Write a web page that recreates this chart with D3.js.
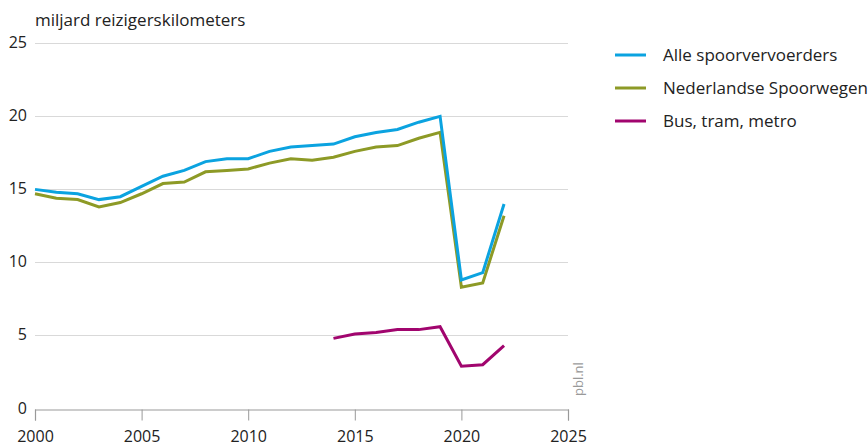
<!DOCTYPE html>
<html>
<head>
<meta charset="utf-8">
<script src="https://cdn.jsdelivr.net/npm/d3@7"></script>
<style>
  body { margin: 0; background: #fff; }
  svg { display: block; font-family: "Open Sans", sans-serif; }
</style>
</head>
<body>
<svg id="chart" width="868" height="448"></svg>
<script>
// Reizigerskilometers per vervoerswijze (miljard)
const years = d3.range(2000, 2023);
const alleSpoor = [15.0, 14.8, 14.7, 14.3, 14.5, 15.2, 15.9, 16.3, 16.9, 17.1, 17.1, 17.6, 17.9, 18.0, 18.1, 18.6, 18.9, 19.1, 19.6, 20.0, 8.8, 9.3, 14.0];
const nsSpoor = [14.7, 14.4, 14.3, 13.8, 14.1, 14.7, 15.4, 15.5, 16.2, 16.3, 16.4, 16.8, 17.1, 17.0, 17.2, 17.6, 17.9, 18.0, 18.5, 18.9, 8.3, 8.6, 13.2];
const btmYears = d3.range(2014, 2023);
const btm = [4.8, 5.1, 5.2, 5.4, 5.4, 5.6, 2.9, 3.0, 4.3];

const seriesNames = ["Alle  spoorvervoerders", "Nederlandse Spoorwegen", "Bus, tram, metro"];
const seriesColors = ["#0ba3e0", "#8d9a26", "#a1056e"];
const yTicks = [0, 5, 10, 15, 20, 25];
const xTicks = [2000, 2005, 2010, 2015, 2020, 2025];

const series = [
  { name: seriesNames[0], color: seriesColors[0], pts: years.map((y, i) => [y, alleSpoor[i]]) },
  { name: seriesNames[1], color: seriesColors[1], pts: years.map((y, i) => [y, nsSpoor[i]]) },
  { name: seriesNames[2], color: seriesColors[2], pts: btmYears.map((y, i) => [y, btm[i]]) }
];

const svg = d3.select("#chart");
const x = d3.scaleLinear().domain([2000, 2025]).range([35, 568]);
const y = d3.scaleLinear().domain([0, 25]).range([408.5, 43.3]);

// horizontal gridlines
svg.append("g")
  .selectAll("line")
  .data(yTicks.filter(d => d > 0))
  .join("line")
  .attr("x1", x(2000)).attr("x2", x(2025))
  .attr("y1", d => Math.round(y(d)) + 0.5).attr("y2", d => Math.round(y(d)) + 0.5)
  .attr("stroke", "#d9d9d9").attr("stroke-width", 1);

// y tick labels
svg.append("g")
  .selectAll("text")
  .data(yTicks)
  .join("text")
  .attr("x", 27).attr("y", d => y(d) + 5)
  .attr("text-anchor", "end")
  .attr("font-size", 16).attr("fill", "#222")
  .text(d => d);

// x axis
const xAxis = d3.axisBottom(x).tickValues(xTicks).tickFormat(d3.format("d")).tickSize(11).tickPadding(10);
const gx = svg.append("g")
  .attr("transform", `translate(0,${Math.round(y(0)) + 0.5})`)
  .call(xAxis);
gx.select(".domain").attr("stroke", "#999").attr("stroke-width", 1.2);
gx.selectAll(".tick line").attr("stroke", "#999");
gx.selectAll(".tick text").attr("font-size", 16).attr("fill", "#222").attr("font-family", "Open Sans, sans-serif");

// lines
const line = d3.line().x(d => x(d[0])).y(d => y(d[1]));
svg.append("g")
  .selectAll("path")
  .data(series.slice().reverse())
  .join("path")
  .attr("d", d => line(d.pts))
  .attr("fill", "none")
  .attr("stroke", d => d.color)
  .attr("stroke-width", 3)
  .attr("stroke-linejoin", "miter");

// title
svg.append("text")
  .attr("x", 35).attr("y", 26)
  .attr("font-size", 17).attr("fill", "#222")
  .text("miljard reizigerskilometers");

// legend
const lg = svg.append("g")
  .selectAll("g")
  .data(series)
  .join("g")
  .attr("transform", (d, i) => `translate(615,${55 + i * 33})`);
lg.append("line")
  .attr("x1", 0).attr("x2", 31).attr("y1", 0).attr("y2", 0)
  .attr("stroke", d => d.color).attr("stroke-width", 3);
lg.append("text")
  .attr("x", 48).attr("y", 6)
  .attr("font-size", 17).attr("fill", "#222")
  .text(d => d.name);

// source label
svg.append("text")
  .attr("transform", "translate(583,396) rotate(-90)")
  .attr("font-size", 13).attr("fill", "#999")
  .text("pbl.nl");
</script>
</body>
</html>
